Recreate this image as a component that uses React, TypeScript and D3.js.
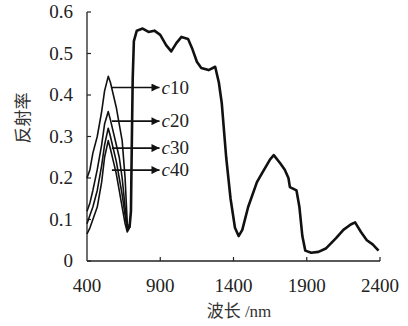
import React from 'react';
import * as d3 from 'd3';

// wavelength (nm) / reflectance
const nirWave = [690, 700, 705, 712, 720, 740, 780, 820, 860, 900, 940, 975, 1010, 1045, 1090, 1120, 1150, 1180, 1230, 1275, 1300, 1320, 1350, 1380, 1410, 1435, 1460, 1500, 1560, 1600, 1650, 1675, 1720, 1750, 1775, 1785, 1830, 1850, 1870, 1890, 1930, 1980, 2030, 2100, 2150, 2200, 2230, 2270, 2310, 2350, 2390];
const nirRefl = [0.08, 0.12, 0.26, 0.44, 0.53, 0.555, 0.56, 0.552, 0.555, 0.545, 0.52, 0.505, 0.525, 0.54, 0.535, 0.51, 0.48, 0.465, 0.46, 0.468, 0.43, 0.38, 0.25, 0.15, 0.08, 0.06, 0.075, 0.13, 0.19, 0.215, 0.245, 0.255, 0.235, 0.22, 0.2, 0.178, 0.17, 0.13, 0.06, 0.025, 0.02, 0.022, 0.03, 0.055, 0.075, 0.088, 0.093, 0.07, 0.05, 0.04, 0.025];

const visWave = [400, 420, 440, 470, 500, 520, 545, 560, 580, 600, 620, 640, 660, 675, 690];
const c10 = [0.2, 0.22, 0.26, 0.3, 0.36, 0.41, 0.445, 0.43, 0.4, 0.37, 0.33, 0.29, 0.2, 0.09, 0.08];
const c20 = [0.12, 0.14, 0.17, 0.22, 0.28, 0.33, 0.36, 0.34, 0.31, 0.28, 0.25, 0.2, 0.13, 0.08, 0.08];
const c30 = [0.09, 0.11, 0.13, 0.17, 0.23, 0.28, 0.32, 0.3, 0.27, 0.24, 0.2, 0.16, 0.11, 0.075, 0.08];
const c40 = [0.065, 0.08, 0.1, 0.13, 0.19, 0.25, 0.29, 0.27, 0.24, 0.21, 0.17, 0.13, 0.09, 0.07, 0.08];

const seriesNames = ['c10', 'c20', 'c30', 'c40'];
const visSeries = [c10, c20, c30, c40];
// arrow heights (reflectance) for the labels
const arrowLevels = [0.418, 0.337, 0.272, 0.219];
const arrowFrom = 570;
const arrowTo = 895;

const xTicks = [400, 900, 1400, 1900, 2400];
const yTicks = [0, 0.1, 0.2, 0.3, 0.4, 0.5, 0.6];

export default function App() {
  const width = 408;
  const height = 326;
  const x = d3.scaleLinear().domain([400, 2400]).range([87, 380]);
  const y = d3.scaleLinear().domain([0, 0.6]).range([261, 12]);

  const line = d3.line<[number, number]>()
    .x(d => x(d[0]))
    .y(d => y(d[1]));

  const serif = '"Liberation Serif", "DejaVu Serif", serif';

  return (
    <svg width={width} height={height} style={{ position: 'absolute', left: 0, top: 0, background: '#fff' }}>
      <defs>
        <marker id="arr" viewBox="0 0 10 10" refX="10" refY="5" markerWidth="9" markerHeight="8" orient="auto" markerUnits="userSpaceOnUse">
          <path d="M0,0 L10,5 L0,10 z" fill="#111" />
        </marker>
      </defs>

      {/* axes */}
      <line x1={x(400)} x2={x(400)} y1={y(0)} y2={y(0.6)} stroke="#222" strokeWidth={1.3} />
      <line x1={x(400)} x2={x(2400)} y1={y(0)} y2={y(0)} stroke="#222" strokeWidth={1.3} />
      {yTicks.map(t => (
        <g key={t}>
          <line x1={x(400)} x2={x(400) + 4} y1={y(t)} y2={y(t)} stroke="#222" strokeWidth={1.2} />
          <text x={73} y={y(t) + 6} textAnchor="end" fontFamily={serif} fontSize={19} fill="#222">{t === 0 ? '0' : t.toFixed(1)}</text>
        </g>
      ))}
      {xTicks.map(t => (
        <g key={t}>
          {t > 400 && <line x1={x(t)} x2={x(t)} y1={y(0)} y2={y(0) - 4} stroke="#222" strokeWidth={1.2} />}
          <text x={x(t)} y={292} textAnchor="middle" fontFamily={serif} fontSize={19} fill="#222">{t}</text>
        </g>
      ))}

      {/* axis labels */}
      <text transform={`translate(29,118) rotate(-90)`} textAnchor="middle" fontFamily='"Noto Sans CJK SC", sans-serif' fontSize={17} fill="#333">反射率</text>
      <text x={239} y={317} textAnchor="middle" fontSize={17} fill="#333">
        <tspan fontFamily='"Noto Sans CJK SC", sans-serif'>波长</tspan>
        <tspan fontFamily={serif}> /nm</tspan>
      </text>

      {/* visible part of the four curves */}
      {visSeries.map((vals, i) => (
        <path key={seriesNames[i]}
          d={line(visWave.map((w, j) => [w, vals[j]] as [number, number])) || ''}
          fill="none" stroke="#111" strokeWidth={1.6} strokeLinejoin="round" />
      ))}

      {/* common NIR curve */}
      <path d={line(nirWave.map((w, j) => [w, nirRefl[j]] as [number, number])) || ''}
        fill="none" stroke="#111" strokeWidth={2.6} strokeLinejoin="round" />

      {/* arrows and labels */}
      {seriesNames.map((name, i) => (
        <g key={name}>
          <line x1={x(arrowFrom)} x2={x(arrowTo)} y1={y(arrowLevels[i])} y2={y(arrowLevels[i])}
            stroke="#111" strokeWidth={1.6} markerEnd="url(#arr)" />
          <text x={x(arrowTo) + 2} y={y(arrowLevels[i]) + 6} fontFamily={serif} fontSize={19} fill="#222">
            <tspan fontStyle="italic">c</tspan>{name.slice(1)}
          </text>
        </g>
      ))}
    </svg>
  );
}
